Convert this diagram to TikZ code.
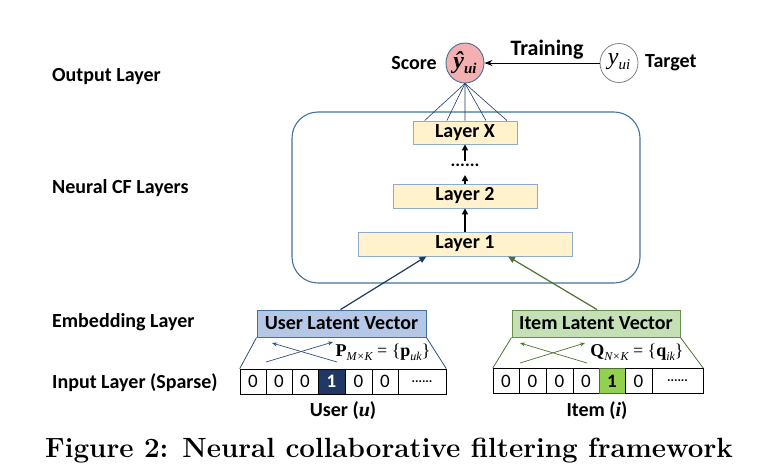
\documentclass[tikz,border=0pt]{standalone}
\usepackage{fontspec}
\usepackage{bm}
\newfontfamily\calfont{Carlito}
\newfontfamily\tmsfont{Liberation Serif}
\usetikzlibrary{arrows.meta,calc,shapes.geometric}
\definecolor{layerfill}{HTML}{FFF2CC}
\definecolor{layerdraw}{HTML}{8FAACC}
\definecolor{frame}{HTML}{41719C}
\definecolor{userfill}{HTML}{B4C7E7}
\definecolor{userdraw}{HTML}{41719C}
\definecolor{itemfill}{HTML}{C5E0B4}
\definecolor{itemdraw}{HTML}{6A8F4A}
\definecolor{navy}{HTML}{1F3864}
\definecolor{userline}{HTML}{2F4F7F}
\definecolor{itemline}{HTML}{4F6F2F}
\definecolor{greenone}{HTML}{92D050}
\definecolor{scorefill}{HTML}{F4B0B0}
\newcommand{\subsc}[1]{\raisebox{-4pt}{\fontsize{12}{14}\selectfont\itshape #1}}
\begin{document}
\begin{tikzpicture}[x=1pt,y=-1pt,
  lbl/.style={font=\calfont\bfseries\fontsize{20}{24}\selectfont, inner sep=0},
  sidelbl/.style={lbl, anchor=west},
  layerbox/.style={draw=layerdraw, fill=layerfill, line width=0.9pt, inner sep=0, font=\calfont\bfseries\fontsize{20}{24}\selectfont},
  latent/.style={line width=0.9pt, inner sep=0, minimum height=27pt, font=\calfont\bfseries\fontsize{20}{24}\selectfont},
  cell/.style={draw=black, line width=0.6pt, minimum height=25pt, inner sep=0, font=\calfont\fontsize{19}{22}\selectfont},
  uparrow/.style={line width=1.6pt, -{Triangle[length=6pt,width=6pt]}},
  emb/.style={line width=1.2pt, -{Triangle[length=7pt,width=6pt]}},
  cross/.style={line width=0.7pt, -{Stealth[length=5pt,width=4pt]}},
  fan/.style={navy, line width=0.6pt},
  mathlbl/.style={inner sep=0, font=\tmsfont\fontsize{18}{20}\selectfont}
]
\useasboundingbox (0,0) rectangle (771,475);

% side labels
\node[sidelbl] (lout) at (52,77) {Output Layer};
\node[sidelbl] (lcf) at (52,188) {Neural CF Layers};
\node[sidelbl] (lemb) at (52,322) {Embedding Layer};
\node[sidelbl] (lin) at (52,383) {Input Layer (Sparse)};

% neural CF frame
\draw[frame, line width=1.1pt, rounded corners=26pt] (292,112) rectangle (640,283);
\node[layerbox, minimum width=104pt, minimum height=23pt] (LX) at (465,132.5) {Layer X};
\node[layerbox, minimum width=144pt, minimum height=24pt] (L2) at (465,196) {Layer 2};
\node[layerbox, minimum width=214pt, minimum height=24pt] (L1) at (465,244) {Layer 1};
\node[inner sep=0, font=\calfont\bfseries\fontsize{18}{20}\selectfont] (dots) at (465,165) {......};
\coordinate (d1) at (465,175);
\coordinate (d2) at (465,161);
\draw[uparrow] (L1.north) -- (L2.south);
\draw[uparrow] (L2.north) -- (d1);
\draw[uparrow] (d2) -- (LX.south);

% output
\node[ellipse, draw=frame, fill=scorefill, line width=0.9pt, minimum width=38pt, minimum height=40pt, inner sep=0] (score) at (465,63) {};
\node[inner sep=0, font=\tmsfont\bfseries\itshape\fontsize{24}{26}\selectfont] (yhat) at (465,63) {ŷ\raisebox{-5pt}{\fontsize{15}{16}\selectfont ui}};
\node[ellipse, draw=gray, line width=0.8pt, minimum width=38pt, minimum height=39pt, inner sep=0] (target) at (619,63) {};
\node[inner sep=0, font=\tmsfont\itshape\fontsize{24}{26}\selectfont] (yt) at (619,62) {y\raisebox{-5pt}{\fontsize{15}{16}\selectfont ui}};
\node[lbl, anchor=east] (scorelbl) at (437,63) {Score};
\node[lbl, anchor=west] (targetlbl) at (645,63) {Target};
\draw[line width=1pt, -{Stealth[length=8pt,width=6pt]}] (target.west) -- (score.east);
\node[inner sep=0, font=\calfont\bfseries\fontsize{22}{26}\selectfont] (train) at (547,50) {Training};
\foreach \f in {0.115,0.327,0.5,0.70,0.90}{
  \draw[fan] (score.south) -- ($(LX.north west)!\f!(LX.north east)$);
}

% latent vectors
\node[latent, draw=userdraw, fill=userfill, minimum width=169pt] (UB) at (341.5,323.5) {User Latent Vector};
\node[latent, draw=itemdraw, fill=itemfill, minimum width=168pt] (IB) at (596,323.5) {Item Latent Vector};
\draw[emb, navy] ($(UB.north)+(-1,0)$) -- ($(L1.south west)!0.32!(L1.south east)$);
\draw[emb, itemline] ($(IB.north)+(1,0)$) -- ($(L1.south west)!0.70!(L1.south east)$);

% user input row
\node[cell, minimum width=26pt] (u1) at (253,381.5) {0};
\node[cell, minimum width=26pt] (u2) at (279,381.5) {0};
\node[cell, minimum width=26pt] (u3) at (305,381.5) {0};
\node[cell, minimum width=27pt, fill=navy, text=white, font=\calfont\bfseries\fontsize{19}{22}\selectfont] (u4) at (331.5,381.5) {1};
\node[cell, minimum width=27pt] (u5) at (358.5,381.5) {0};
\node[cell, minimum width=26pt] (u6) at (385,381.5) {0};
\node[cell, minimum width=48pt, font=\calfont\bfseries\fontsize{13}{15}\selectfont] (u7) at (422,381.5) {......};
\draw[userline, line width=0.8pt] (UB.south west) -- (u1.north west);
\draw[userline, line width=0.8pt] (UB.south east) -- (u7.north east);
\coordinate (ua1) at (266,362); \coordinate (ua2) at (333,342);
\coordinate (ub1) at (337,362); \coordinate (ub2) at (272,343);
\draw[cross, userline] (ua1) -- (ua2);
\draw[cross, userline] (ub1) -- (ub2);
\node[mathlbl] (Pm) at (383,352) {\textbf{P}\subsc{M×K} = \{\textbf{p}\subsc{uk}\}};
\node[lbl] (userlbl) at (343,411) {User ({\tmsfont\bfseries\itshape u})};

% item input row
\node[cell, minimum width=26pt] (i1) at (506,381) {0};
\node[cell, minimum width=27pt] (i2) at (532.5,381) {0};
\node[cell, minimum width=27pt] (i3) at (559.5,381) {0};
\node[cell, minimum width=26pt] (i4) at (586,381) {0};
\node[cell, minimum width=26pt, fill=greenone, draw=itemline, font=\calfont\bfseries\fontsize{19}{22}\selectfont] (i5) at (612,381) {1};
\node[cell, minimum width=27pt] (i6) at (638.5,381) {0};
\node[cell, minimum width=51pt, font=\calfont\bfseries\fontsize{13}{15}\selectfont] (i7) at (677.5,381) {......};
\draw[itemline, line width=0.8pt] (IB.south west) -- (i1.north west);
\draw[itemline, line width=0.8pt] (IB.south east) -- (i7.north east);
\coordinate (ia1) at (520,363); \coordinate (ia2) at (585,343);
\coordinate (ib1) at (587,363); \coordinate (ib2) at (520,343);
\draw[cross, itemline] (ia1) -- (ia2);
\draw[cross, itemline] (ib1) -- (ib2);
\node[mathlbl] (Qm) at (637,352) {\textbf{Q}\subsc{N×K} = \{\textbf{q}\subsc{ik}\}};
\node[lbl] (itemlbl) at (597,411) {Item ({\tmsfont\bfseries\itshape i})};

% caption
\node[inner sep=0, anchor=west, font=\fontsize{27.8}{30}\selectfont\bfseries] (cap) at (45,451) {Figure 2: Neural collaborative filtering framework};
\end{tikzpicture}
\end{document}
